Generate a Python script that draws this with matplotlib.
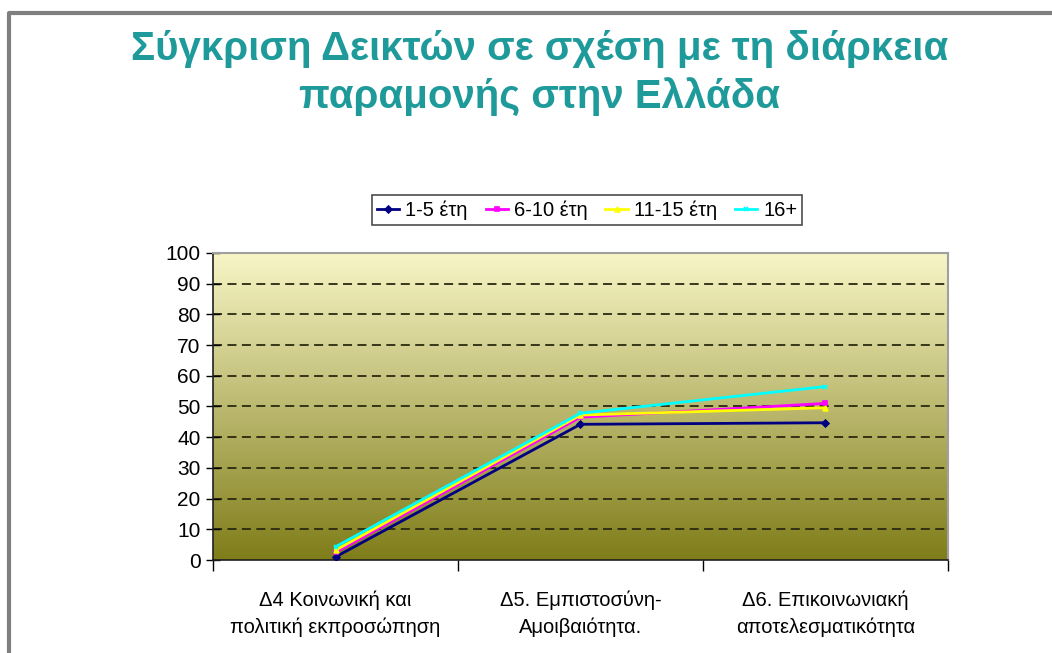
# Σύγκριση δεικτών ανά διάρκεια παραμονής
import numpy as np
import matplotlib.pyplot as plt
from matplotlib.lines import Line2D

plt.rcParams['font.family'] = ['Liberation Sans', 'DejaVu Sans']

categories = ['Δ4 Κοινωνική και\nπολιτική εκπροσώπηση',
              'Δ5. Εμπιστοσύνη-\nΑμοιβαιότητα.',
              'Δ6. Επικοινωνιακή\nαποτελεσματικότητα']
series_names = ['1-5 έτη', '6-10 έτη', '11-15 έτη', '16+']
y_1_5 = [1.0, 44.2, 44.7]
y_6_10 = [2.5, 46.5, 51.0]
y_11_15 = [3.2, 47.2, 49.6]
y_16 = [4.3, 47.8, 56.5]

colors = ['#000080', '#ff00ff', '#ffff00', '#00ffff']
markers = ['D', 's', '^', 'x']

fig = plt.figure(figsize=(10.52, 6.53), dpi=100)
ax = fig.add_axes([0.2025, 0.1424, 0.6985, 0.4702])

# gradient background
grad = np.linspace(0, 1, 256).reshape(-1, 1)
top = np.array([0.975, 0.965, 0.78])
bot = np.array([0.50, 0.49, 0.10])
img = top[None, None, :] * (1 - grad[:, :, None]) + bot[None, None, :] * grad[:, :, None]
ax.imshow(img, extent=[0, 1, 0, 1], transform=ax.transAxes, aspect='auto', zorder=0)

x = np.arange(len(categories))
for vals, c, m, name in zip([y_1_5, y_6_10, y_11_15, y_16], colors, markers, series_names):
    ax.plot(x, vals, color=c, lw=2, marker=m, ms=3.5, mew=1.2, label=name, zorder=3)

ax.set_xlim(-0.5, 2.5)
ax.set_ylim(0, 100)
ax.set_yticks(range(0, 101, 10))
ax.tick_params(axis='y', labelsize=15, direction='inout', length=10, width=1, pad=4)
ax.set_xticks([-0.5, 0.5, 1.5, 2.5])
ax.set_xticklabels([])
ax.set_xticks(x, minor=True)
ax.set_xticklabels(categories, minor=True, fontsize=14.5, linespacing=1.45)
ax.tick_params(axis='x', which='major', direction='out', length=8, width=1)
ax.tick_params(axis='x', which='minor', length=0, pad=22)
for yv in range(10, 100, 10):
    ax.axhline(yv, color='#2a2a10', lw=1.3, ls=(0, (5, 3)), zorder=1)
for s in ['top', 'right']:
    ax.spines[s].set_color('#a0a0a0')
    ax.spines[s].set_linewidth(1.5)
for s in ['left', 'bottom']:
    ax.spines[s].set_color('#202020')
    ax.spines[s].set_linewidth(1.2)

leg = fig.legend(loc='center', bbox_to_anchor=(0.558, 0.6785), ncol=4, fontsize=14.5,
                 frameon=True, fancybox=False, edgecolor='#202020', handlelength=1.1,
                 handletextpad=0.3, columnspacing=0.9, borderpad=0.25)
leg.get_frame().set_linewidth(1.2)

fig.text(0.513, 1 - 30 / 653, 'Σύγκριση Δεικτών σε σχέση με τη διάρκεια\nπαραμονής στην Ελλάδα',
         ha='center', va='top', fontsize=29, fontweight='bold', color='#1f9a9a',
         linespacing=1.3)

# frame of the original slide
fig.add_artist(Line2D([9 / 1052, 9 / 1052, 1], [0, 1 - 13 / 653, 1 - 13 / 653],
                      transform=fig.transFigure, color='#808080', lw=3))

fig.savefig('out.png', dpi=100)
